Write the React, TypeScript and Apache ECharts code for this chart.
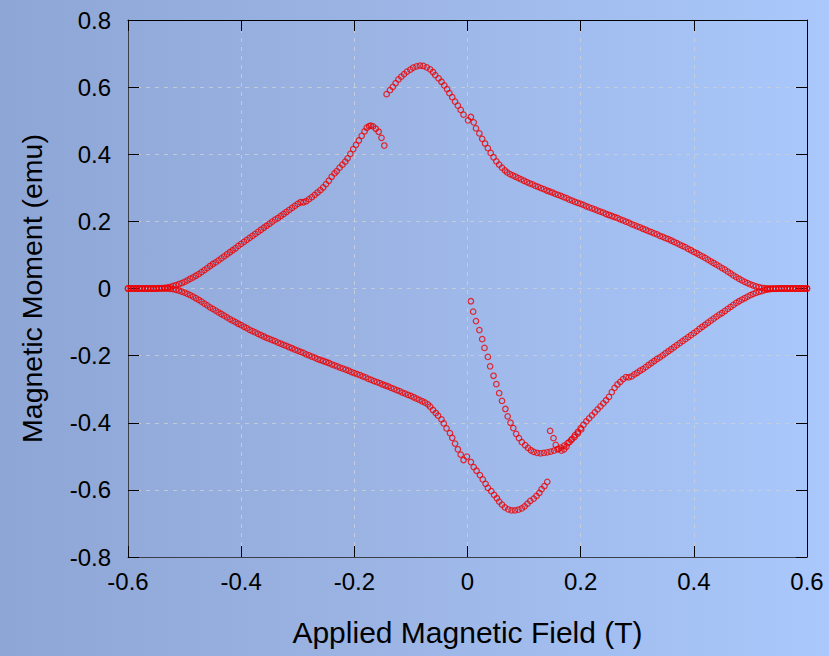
import React, { useEffect, useRef } from "react";
import * as echarts from "echarts";

// Upper-left branch (field increasing from -0.6)
const upperLeft: [number, number][] = [
  [-0.6, 0], [-0.595, 0], [-0.59, 0], [-0.585, 0], [-0.58, 0], [-0.575, 0], [-0.57, 0], [-0.565, 0],
  [-0.56, 0], [-0.555, 0], [-0.55, 0], [-0.545, 0.001], [-0.54, 0.001], [-0.535, 0.002], [-0.53, 0.003],
  [-0.525, 0.005], [-0.52, 0.008], [-0.515, 0.01], [-0.51, 0.013], [-0.505, 0.016], [-0.5, 0.02],
  [-0.495, 0.024], [-0.49, 0.029], [-0.485, 0.033], [-0.48, 0.038], [-0.475, 0.043], [-0.47, 0.049],
  [-0.465, 0.055], [-0.46, 0.061], [-0.455, 0.067], [-0.45, 0.073], [-0.445, 0.078], [-0.44, 0.084],
  [-0.435, 0.09], [-0.43, 0.096], [-0.425, 0.102], [-0.42, 0.108], [-0.415, 0.114], [-0.41, 0.12],
  [-0.405, 0.127], [-0.4, 0.133], [-0.395, 0.139], [-0.39, 0.145], [-0.385, 0.151], [-0.38, 0.157],
  [-0.375, 0.163], [-0.37, 0.169], [-0.365, 0.175], [-0.36, 0.181], [-0.355, 0.187], [-0.35, 0.193],
  [-0.345, 0.199], [-0.34, 0.205], [-0.335, 0.21], [-0.33, 0.216], [-0.325, 0.222], [-0.32, 0.228],
  [-0.315, 0.234], [-0.31, 0.24], [-0.305, 0.246], [-0.3, 0.252], [-0.295, 0.257], [-0.29, 0.257],
  [-0.285, 0.26], [-0.28, 0.266], [-0.275, 0.272], [-0.27, 0.279], [-0.265, 0.286], [-0.26, 0.293],
  [-0.255, 0.301], [-0.25, 0.311], [-0.245, 0.321], [-0.24, 0.333], [-0.235, 0.343], [-0.231, 0.35],
  [-0.226, 0.36], [-0.221, 0.369], [-0.216, 0.378], [-0.212, 0.388], [-0.207, 0.401], [-0.202, 0.415],
  [-0.197, 0.428], [-0.192, 0.441], [-0.187, 0.455], [-0.182, 0.468], [-0.178, 0.479], [-0.174, 0.484],
  [-0.171, 0.485], [-0.167, 0.483], [-0.162, 0.476], [-0.157, 0.467], [-0.152, 0.449], [-0.147, 0.426],
];

// Upper-middle branch (from -0.15 to +0.6)
const upperMid: [number, number][] = [
  [-0.143, 0.579], [-0.137, 0.591], [-0.132, 0.601], [-0.127, 0.612], [-0.122, 0.623], [-0.117, 0.631],
  [-0.112, 0.639], [-0.107, 0.646], [-0.101, 0.652], [-0.096, 0.658], [-0.09, 0.662], [-0.084, 0.664],
  [-0.078, 0.663], [-0.072, 0.659], [-0.066, 0.653], [-0.061, 0.645], [-0.057, 0.636], [-0.051, 0.626],
  [-0.046, 0.616], [-0.041, 0.605], [-0.036, 0.594], [-0.032, 0.582], [-0.027, 0.57], [-0.022, 0.557],
  [-0.017, 0.545], [-0.012, 0.532], [-0.007, 0.518], [0.001, 0.501], [0.006, 0.511], [0.011, 0.495],
  [0.015, 0.477], [0.021, 0.462], [0.026, 0.446], [0.031, 0.432], [0.036, 0.418], [0.041, 0.404],
  [0.046, 0.391], [0.051, 0.379], [0.056, 0.369], [0.061, 0.36], [0.066, 0.352], [0.07, 0.346],
  [0.075, 0.341], [0.08, 0.337], [0.085, 0.333], [0.09, 0.329], [0.095, 0.325], [0.1, 0.321],
  [0.105, 0.317], [0.11, 0.313], [0.115, 0.31], [0.12, 0.306], [0.125, 0.303], [0.13, 0.299],
  [0.135, 0.296], [0.14, 0.292], [0.145, 0.289], [0.15, 0.286], [0.155, 0.282], [0.16, 0.279],
  [0.165, 0.276], [0.17, 0.272], [0.175, 0.269], [0.18, 0.265], [0.185, 0.262], [0.19, 0.258],
  [0.195, 0.255], [0.2, 0.252], [0.205, 0.249], [0.21, 0.245], [0.215, 0.242], [0.22, 0.239],
  [0.225, 0.236], [0.23, 0.232], [0.235, 0.229], [0.24, 0.226], [0.245, 0.222], [0.25, 0.219],
  [0.255, 0.216], [0.26, 0.213], [0.265, 0.21], [0.27, 0.206], [0.275, 0.203], [0.28, 0.199],
  [0.285, 0.196], [0.29, 0.192], [0.295, 0.189], [0.3, 0.185], [0.305, 0.182], [0.31, 0.178],
  [0.315, 0.175], [0.32, 0.171], [0.325, 0.168], [0.33, 0.164], [0.335, 0.161], [0.34, 0.157],
  [0.345, 0.154], [0.35, 0.15], [0.355, 0.147], [0.36, 0.143], [0.365, 0.139], [0.37, 0.135],
  [0.375, 0.131], [0.38, 0.127], [0.385, 0.123], [0.39, 0.118], [0.395, 0.114], [0.4, 0.109],
  [0.405, 0.105], [0.41, 0.1], [0.415, 0.096], [0.42, 0.091], [0.425, 0.086], [0.43, 0.081],
  [0.435, 0.076], [0.44, 0.071], [0.445, 0.066], [0.45, 0.061], [0.455, 0.056], [0.46, 0.05],
  [0.465, 0.045], [0.47, 0.039], [0.475, 0.034], [0.48, 0.029], [0.485, 0.024], [0.49, 0.02],
  [0.495, 0.016], [0.5, 0.012], [0.505, 0.009], [0.51, 0.006], [0.515, 0.004], [0.52, 0.002],
  [0.525, 0.001], [0.53, 0], [0.535, 0], [0.54, 0], [0.545, 0], [0.55, 0], [0.555, 0], [0.56, 0],
  [0.565, 0], [0.57, 0], [0.575, 0], [0.58, 0], [0.585, 0], [0.59, 0], [0.595, 0], [0.6, 0],
];

// Lower-right branch (field decreasing from +0.6)
const lowerRight: [number, number][] = [
  [0.6, 0], [0.595, 0], [0.59, 0], [0.585, 0], [0.58, 0], [0.575, 0], [0.57, 0], [0.565, 0],
  [0.56, 0], [0.555, 0], [0.55, 0], [0.545, -0.001], [0.54, -0.001], [0.535, -0.002], [0.53, -0.003],
  [0.525, -0.005], [0.52, -0.008], [0.515, -0.01], [0.51, -0.013], [0.505, -0.016], [0.5, -0.02],
  [0.495, -0.024], [0.49, -0.029], [0.485, -0.033], [0.48, -0.038], [0.475, -0.043], [0.47, -0.049],
  [0.465, -0.055], [0.46, -0.061], [0.455, -0.067], [0.45, -0.073], [0.445, -0.078], [0.44, -0.084],
  [0.435, -0.09], [0.43, -0.096], [0.425, -0.102], [0.42, -0.108], [0.415, -0.114], [0.41, -0.12],
  [0.405, -0.127], [0.4, -0.133], [0.395, -0.139], [0.39, -0.145], [0.385, -0.151], [0.38, -0.157],
  [0.375, -0.163], [0.37, -0.169], [0.365, -0.175], [0.36, -0.181], [0.355, -0.187], [0.35, -0.193],
  [0.345, -0.199], [0.34, -0.205], [0.335, -0.21], [0.33, -0.216], [0.325, -0.222], [0.32, -0.228],
  [0.315, -0.234], [0.31, -0.24], [0.305, -0.245], [0.3, -0.251], [0.295, -0.256], [0.29, -0.262],
  [0.285, -0.265], [0.28, -0.264], [0.275, -0.27], [0.27, -0.278], [0.265, -0.286], [0.26, -0.296],
  [0.255, -0.309], [0.25, -0.323], [0.245, -0.333], [0.24, -0.342], [0.235, -0.351], [0.23, -0.36],
  [0.225, -0.369], [0.22, -0.378], [0.215, -0.387], [0.21, -0.396], [0.205, -0.406], [0.2, -0.416],
  [0.195, -0.427], [0.19, -0.437], [0.185, -0.448], [0.18, -0.458], [0.175, -0.471], [0.171, -0.479],
  [0.166, -0.483], [0.161, -0.478], [0.156, -0.466], [0.152, -0.446], [0.146, -0.424],
];

// Lower-middle branch (from -0.6 to +0.15)
const lowerMid: [number, number][] = [
  [-0.6, 0], [-0.595, 0], [-0.59, 0], [-0.585, 0], [-0.58, 0], [-0.575, 0], [-0.57, 0], [-0.565, 0],
  [-0.56, 0], [-0.555, 0], [-0.55, 0], [-0.545, 0], [-0.54, 0], [-0.535, 0], [-0.53, 0],
  [-0.525, -0.001], [-0.52, -0.002], [-0.515, -0.004], [-0.51, -0.006], [-0.505, -0.009], [-0.5, -0.012],
  [-0.495, -0.016], [-0.49, -0.02], [-0.485, -0.024], [-0.48, -0.029], [-0.475, -0.034], [-0.47, -0.039],
  [-0.465, -0.045], [-0.46, -0.05], [-0.455, -0.056], [-0.45, -0.061], [-0.445, -0.066], [-0.44, -0.071],
  [-0.435, -0.076], [-0.43, -0.081], [-0.425, -0.086], [-0.42, -0.091], [-0.415, -0.096], [-0.41, -0.1],
  [-0.405, -0.105], [-0.4, -0.109], [-0.395, -0.114], [-0.39, -0.118], [-0.385, -0.123], [-0.38, -0.127],
  [-0.375, -0.131], [-0.37, -0.135], [-0.365, -0.139], [-0.36, -0.143], [-0.355, -0.147], [-0.35, -0.15],
  [-0.345, -0.154], [-0.34, -0.157], [-0.335, -0.161], [-0.33, -0.164], [-0.325, -0.168], [-0.32, -0.171],
  [-0.315, -0.175], [-0.31, -0.178], [-0.305, -0.182], [-0.3, -0.185], [-0.295, -0.189], [-0.29, -0.192],
  [-0.285, -0.196], [-0.28, -0.199], [-0.275, -0.203], [-0.27, -0.206], [-0.265, -0.21], [-0.26, -0.213],
  [-0.255, -0.216], [-0.25, -0.219], [-0.245, -0.222], [-0.24, -0.226], [-0.235, -0.229], [-0.23, -0.232],
  [-0.225, -0.236], [-0.22, -0.239], [-0.215, -0.242], [-0.21, -0.245], [-0.205, -0.249], [-0.2, -0.252],
  [-0.195, -0.255], [-0.19, -0.258], [-0.185, -0.262], [-0.18, -0.265], [-0.175, -0.269], [-0.17, -0.272],
  [-0.165, -0.276], [-0.16, -0.279], [-0.155, -0.282], [-0.15, -0.286], [-0.145, -0.289], [-0.14, -0.292],
  [-0.135, -0.296], [-0.13, -0.299], [-0.125, -0.303], [-0.12, -0.306], [-0.115, -0.31], [-0.11, -0.313],
  [-0.105, -0.317], [-0.1, -0.32], [-0.095, -0.324], [-0.09, -0.328], [-0.085, -0.332], [-0.08, -0.336],
  [-0.075, -0.34], [-0.07, -0.345], [-0.066, -0.352], [-0.061, -0.362], [-0.056, -0.371], [-0.052, -0.379],
  [-0.046, -0.39], [-0.042, -0.402], [-0.037, -0.417], [-0.031, -0.431], [-0.027, -0.445], [-0.022, -0.462],
  [-0.017, -0.479], [-0.012, -0.495], [-0.007, -0.511], [-0.001, -0.501], [0.006, -0.517], [0.011, -0.532],
  [0.016, -0.543], [0.022, -0.556], [0.027, -0.569], [0.032, -0.582], [0.036, -0.594], [0.042, -0.604],
  [0.047, -0.615], [0.052, -0.625], [0.056, -0.635], [0.061, -0.644], [0.066, -0.652], [0.072, -0.658],
  [0.078, -0.661], [0.084, -0.661], [0.09, -0.659], [0.096, -0.655], [0.101, -0.649], [0.106, -0.641],
  [0.111, -0.633], [0.117, -0.626], [0.122, -0.618], [0.127, -0.609], [0.131, -0.598], [0.136, -0.589],
  [0.141, -0.576],
];

// Initial (virgin) curve from zero field
const virgin: [number, number][] = [
  [0.006, -0.038], [0.01, -0.069], [0.015, -0.097], [0.021, -0.124], [0.026, -0.151], [0.03, -0.177],
  [0.036, -0.204], [0.04, -0.232], [0.046, -0.26], [0.051, -0.285], [0.056, -0.312], [0.061, -0.335],
  [0.067, -0.359], [0.071, -0.381], [0.076, -0.4], [0.081, -0.416], [0.086, -0.433], [0.091, -0.446],
  [0.096, -0.458], [0.102, -0.467], [0.107, -0.475], [0.112, -0.482], [0.117, -0.487], [0.123, -0.49],
  [0.129, -0.491], [0.135, -0.49], [0.141, -0.488], [0.147, -0.486], [0.153, -0.483], [0.159, -0.479],
  [0.165, -0.474], [0.171, -0.468], [0.177, -0.461], [0.183, -0.452], [0.189, -0.443], [0.195, -0.432],
  [0.201, -0.42],
];

const xTicks = { min: -0.6, max: 0.6, interval: 0.2 };
const yTicks = { min: -0.8, max: 0.8, interval: 0.2 };

const FONT = "'Liberation Sans', Arial, sans-serif";

export default function App() {
  const ref = useRef<HTMLDivElement>(null);
  useEffect(() => {
    if (!ref.current) return;
    const chart = echarts.init(ref.current, undefined, { renderer: "svg" });
    const split = { show: true, lineStyle: { color: "rgba(205,208,215,0.8)", type: [4, 5] as any, width: 1 } };
    const tick = { show: true, inside: true, length: 11, lineStyle: { color: "#000", width: 1 } };
    const mkSeries = (d: [number, number][]) => ({
      type: "scatter",
      data: d,
      symbol: "circle",
      symbolSize: 5.5,
      itemStyle: { color: "rgba(0,0,0,0)", borderColor: "#ee0000", borderWidth: 1.2 },
      silent: true,
      z: 5,
    });
    chart.setOption({
      animation: false,
      backgroundColor: "transparent",
      grid: { left: 128, top: 20, width: 679, height: 537, show: false },
      xAxis: [
        {
          type: "value",
          ...xTicks,
          position: "bottom",
          name: "Applied Magnetic Field (T)",
          nameLocation: "middle",
          nameGap: 60,
          nameTextStyle: { fontFamily: FONT, fontSize: 30, color: "#000" },
          axisLine: { show: true, onZero: false, lineStyle: { color: "#3a3f4a", width: 1 } },
          axisTick: tick,
          axisLabel: { fontFamily: FONT, fontSize: 24, color: "#000", margin: 12 },
          splitLine: split,
        },
        {
          type: "value",
          ...xTicks,
          position: "top",
          axisLine: { show: true, onZero: false, lineStyle: { color: "#000", width: 1 } },
          axisTick: tick,
          axisLabel: { show: false },
          splitLine: { show: false },
        },
      ],
      yAxis: [
        {
          type: "value",
          ...yTicks,
          position: "left",
          name: "Magnetic Moment (emu)",
          nameLocation: "middle",
          nameGap: 82,
          nameTextStyle: { fontFamily: FONT, fontSize: 28.5, color: "#000" },
          axisLine: { show: true, onZero: false, lineStyle: { color: "#3a3f4a", width: 1 } },
          axisTick: tick,
          axisLabel: { fontFamily: FONT, fontSize: 24, color: "#000", margin: 17 },
          splitLine: split,
        },
        {
          type: "value",
          ...yTicks,
          position: "right",
          axisLine: { show: true, onZero: false, lineStyle: { color: "#000", width: 1 } },
          axisTick: tick,
          axisLabel: { show: false },
          splitLine: { show: false },
        },
      ],
      series: [
        mkSeries(upperLeft),
        mkSeries(upperMid),
        mkSeries(lowerRight),
        mkSeries(lowerMid),
        mkSeries(virgin),
      ],
    });
    return () => chart.dispose();
  }, []);
  return (
    <div
      ref={ref}
      style={{
        position: "fixed",
        left: 0,
        top: 0,
        width: 829,
        height: 656,
        background: "linear-gradient(to right, #8ea6d5 0%, #9bb4e4 45%, #aac8fc 100%)",
      }}
    />
  );
}
